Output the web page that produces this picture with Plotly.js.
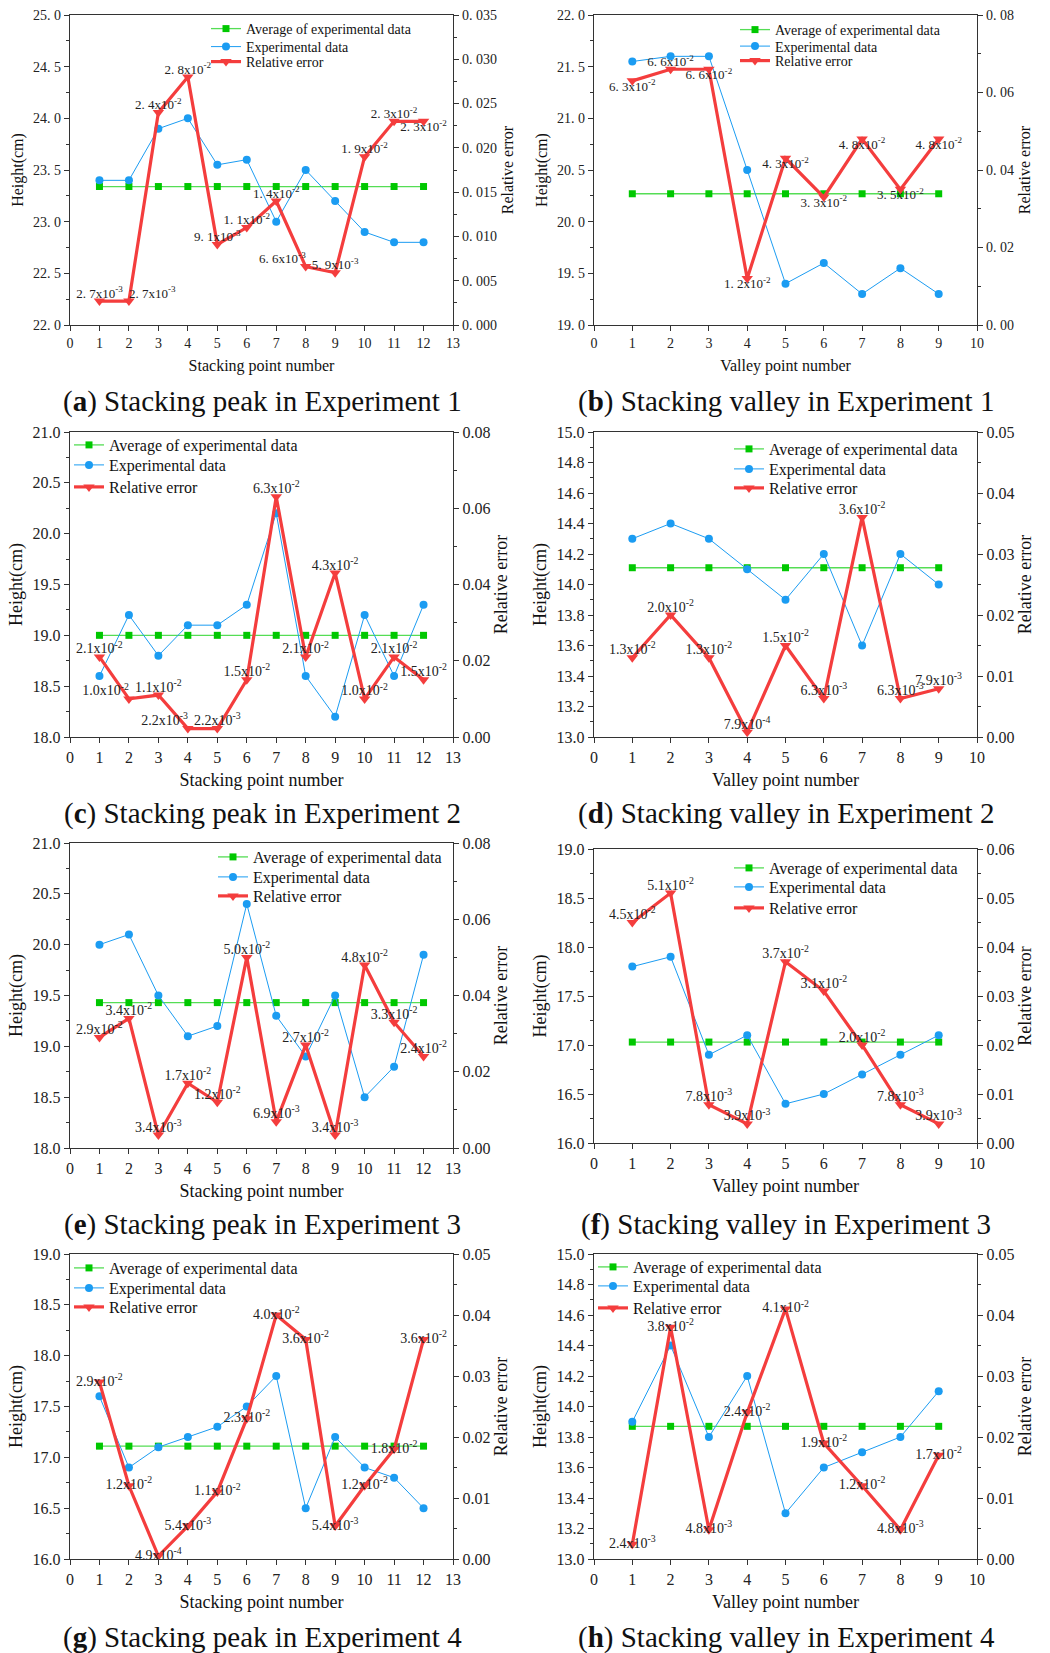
<!DOCTYPE html>
<html><head><meta charset="utf-8">
<script src="https://cdn.plot.ly/plotly-3.0.1.min.js"></script>
<style>body{margin:0;background:#fff}#chart{width:1050px;height:1653px}</style>
</head><body><div id="chart"></div>
<script>
// ---------- DATA ----------
const peakPoints = [1,2,3,4,5,6,7,8,9,10,11,12];
const valleyPoints = [1,2,3,4,5,6,7,8,9];

const a_height = [23.4,23.4,23.9,24.0,23.55,23.6,23.0,23.5,23.2,22.9,22.8,22.8];
const a_avg = [23.34,23.34,23.34,23.34,23.34,23.34,23.34,23.34,23.34,23.34,23.34,23.34];
const a_err = [0.0027,0.0027,0.024,0.028,0.0091,0.011,0.014,0.0066,0.0059,0.019,0.023,0.023];

const b_height = [21.55,21.6,21.6,20.5,19.4,19.6,19.3,19.55,19.3];
const b_avg = [20.27,20.27,20.27,20.27,20.27,20.27,20.27,20.27,20.27];
const b_err = [0.063,0.066,0.066,0.012,0.043,0.033,0.048,0.035,0.048];

const c_height = [18.6,19.2,18.8,19.1,19.1,19.3,20.2,18.6,18.2,19.2,18.6,19.3];
const c_avg = [19.0,19.0,19.0,19.0,19.0,19.0,19.0,19.0,19.0,19.0,19.0,19.0];
const c_err = [0.021,0.010,0.011,0.0022,0.0022,0.015,0.063,0.021,0.043,0.010,0.021,0.015];

const d_height = [14.3,14.4,14.3,14.1,13.9,14.2,13.6,14.2,14.0];
const d_avg = [14.11,14.11,14.11,14.11,14.11,14.11,14.11,14.11,14.11];
const d_err = [0.013,0.020,0.013,0.00079,0.015,0.0063,0.036,0.0063,0.0079];

const e_height = [20.0,20.1,19.5,19.1,19.2,20.4,19.3,18.9,19.5,18.5,18.8,19.9];
const e_avg = [19.43,19.43,19.43,19.43,19.43,19.43,19.43,19.43,19.43,19.43,19.43,19.43];
const e_err = [0.029,0.034,0.0034,0.017,0.012,0.050,0.0069,0.027,0.0034,0.048,0.033,0.024];

const f_height = [17.8,17.9,16.9,17.1,16.4,16.5,16.7,16.9,17.1];
const f_avg = [17.03,17.03,17.03,17.03,17.03,17.03,17.03,17.03,17.03];
const f_err = [0.045,0.051,0.0078,0.0039,0.037,0.031,0.020,0.0078,0.0039];

const g_height = [17.6,16.9,17.1,17.2,17.3,17.5,17.8,16.5,17.2,16.9,16.8,16.5];
const g_avg = [17.11,17.11,17.11,17.11,17.11,17.11,17.11,17.11,17.11,17.11,17.11,17.11];
const g_err = [0.029,0.012,0.00049,0.0054,0.011,0.023,0.040,0.036,0.0054,0.012,0.018,0.036];

const h_height = [13.9,14.4,13.8,14.2,13.3,13.6,13.7,13.8,14.1];
const h_avg = [13.87,13.87,13.87,13.87,13.87,13.87,13.87,13.87,13.87];
const h_err = [0.0024,0.038,0.0048,0.024,0.041,0.019,0.012,0.0048,0.017];

const seriesNames = ['Average of experimental data','Experimental data','Relative error'];
const captions = [
  ['a','Stacking peak in Experiment 1'],['b','Stacking valley in Experiment 1'],
  ['c','Stacking peak in Experiment 2'],['d','Stacking valley in Experiment 2'],
  ['e','Stacking peak in Experiment 3'],['f','Stacking valley in Experiment 3'],
  ['g','Stacking peak in Experiment 4'],['h','Stacking valley in Experiment 4']
];

// ---------- STYLE / LAYOUT ----------
const W = 1050, H = 1653;
const FONT = 'Liberation Serif, Times New Roman, serif';
const GREEN_LINE = '#55dd55', GREEN_MARK = '#00c800', BLUE = '#1b9cf2', RED = '#f43d3d', AXIS = '#333';
const TC='top center', TL='top left', TR='top right', BC='bottom center', MC='middle center';

// leg: [left x, row1 centre y, row2 centre y, row3 centre y] in px
const panels = [
  {x:peakPoints, ht:a_height, avg:a_avg, err:a_err, yR:[22,25], yD:0.5, yDec:1, y2R:[0,0.035], y2D:0.005, y2Dec:3, xMax:13,
   xTitle:'Stacking point number', box:[70,453,15,325], leg:[206,29,47,62], spaced:true,
   pos:[TC,TR,TC,TC,TC,TC,TC,TL,TC,TC,TC,BC]},
  {x:valleyPoints, ht:b_height, avg:b_avg, err:b_err, yR:[19,22], yD:0.5, yDec:1, y2R:[0,0.08], y2D:0.02, y2Dec:2, xMax:10,
   xTitle:'Valley point number', box:[594,977,15,325], leg:[735,30,46.5,61], spaced:true,
   pos:[BC,TC,BC,BC,BC,BC,BC,BC,BC]},
  {x:peakPoints, ht:c_height, avg:c_avg, err:c_err, yR:[18,21], yD:0.5, yDec:1, y2R:[0,0.08], y2D:0.02, y2Dec:2, xMax:13,
   xTitle:'Stacking point number', box:[70,453,432,737], leg:[69,445,465,487], spaced:false,
   pos:[TC,TL,TC,TL,TC,TC,TC,TC,TC,TC,TC,TC]},
  {x:valleyPoints, ht:d_height, avg:d_avg, err:d_err, yR:[13,15], yD:0.2, yDec:1, y2R:[0,0.05], y2D:0.01, y2Dec:2, xMax:10,
   xTitle:'Valley point number', box:[594,977,432,737], leg:[729,449,469,488], spaced:false,
   pos:[TC,TC,TC,TC,TC,TC,TC,TC,TC]},
  {x:peakPoints, ht:e_height, avg:e_avg, err:e_err, yR:[18,21], yD:0.5, yDec:1, y2R:[0,0.08], y2D:0.02, y2Dec:2, xMax:13,
   xTitle:'Stacking point number', box:[70,453,843,1148], leg:[213,857,877,896], spaced:false,
   pos:[TC,TC,TC,TC,TC,TC,TC,TC,TC,TC,TC,TC]},
  {x:valleyPoints, ht:f_height, avg:f_avg, err:f_err, yR:[16,19], yD:0.5, yDec:1, y2R:[0,0.06], y2D:0.01, y2Dec:2, xMax:10,
   xTitle:'Valley point number', box:[594,977,849,1143], leg:[729,868,887,908], spaced:false,
   pos:[TC,TC,TC,TC,TC,TC,TC,TC,TC]},
  {x:peakPoints, ht:g_height, avg:g_avg, err:g_err, yR:[16,19], yD:0.5, yDec:1, y2R:[0,0.05], y2D:0.01, y2Dec:2, xMax:13,
   xTitle:'Stacking point number', box:[70,453,1254,1559], leg:[69,1268,1288,1307], spaced:false,
   pos:[MC,MC,MC,MC,MC,MC,MC,MC,MC,MC,MC,MC]},
  {x:valleyPoints, ht:h_height, avg:h_avg, err:h_err, yR:[13,15], yD:0.2, yDec:1, y2R:[0,0.05], y2D:0.01, y2Dec:2, xMax:10,
   xTitle:'Valley point number', box:[594,977,1254,1559], leg:[593,1267,1286,1308], spaced:false,
   pos:[MC,MC,MC,MC,MC,MC,MC,MC,MC]}
];
const captionY = [401, 813, 1224, 1637];
const captionX = [262, 786];

function fmtErr(v, spaced) {
  const e = Math.floor(Math.log10(v) + 1e-9);
  let m = (v / Math.pow(10, e)).toFixed(1);
  if (spaced) m = m.replace('.', '. ');
  return m + 'x10<sup>-' + (-e) + '</sup>';
}
function ticks(lo, hi, d, dec, spaced) {
  const vals = [], txt = [];
  const n = Math.round((hi - lo) / d);
  for (let i = 0; i <= n; i++) {
    const v = +(lo + i * d).toFixed(8);
    vals.push(v);
    let t = v.toFixed(dec);
    if (spaced) t = t.replace('.', '. ');
    txt.push(t);
  }
  return {vals, txt};
}
function minorVals(lo, hi, d) {
  const out = []; const n = Math.round((hi - lo) / d);
  for (let i = 0; i <= n; i++) out.push(+(lo + i * d).toFixed(8));
  return out;
}

const data = [];
const layout = {
  width: W, height: H, margin: {l:0, r:0, t:0, b:0},
  paper_bgcolor: '#fff', plot_bgcolor: 'rgba(0,0,0,0)',
  font: {family: FONT, color: '#222'},
  showlegend: true, annotations: []
};

panels.forEach((p, i) => {
  const xId = i === 0 ? 'x' : 'x' + (i + 1);
  const yL = 'y' + (2 * i + 1 === 1 ? '' : 2 * i + 1);
  const yR = 'y' + (2 * i + 2);
  const legIds = [0,1,2].map(j => { const k = i * 3 + j + 1; return k === 1 ? 'legend' : 'legend' + k; });
  const small = p.spaced;
  const tickSize = small ? 14 : 16, titleSize = small ? 16 : 18, legSize = small ? 14 : 16, lblSize = small ? 13 : 14;

  data.push({x:p.x, y:p.avg, xaxis:xId, yaxis:yL, legend:legIds[0], name:seriesNames[0], mode:'lines+markers',
    line:{color:GREEN_LINE, width:1.3}, marker:{symbol:'square', size:7, color:GREEN_MARK}, hoverinfo:'skip'});
  data.push({x:p.x, y:p.ht, xaxis:xId, yaxis:yL, legend:legIds[1], name:seriesNames[1], mode:'lines+markers',
    line:{color:BLUE, width:1}, marker:{symbol:'circle', size:8, color:BLUE}, hoverinfo:'skip'});
  data.push({x:p.x, y:p.err, xaxis:xId, yaxis:yR, legend:legIds[2], name:seriesNames[2], mode:'lines+markers',
    line:{color:RED, width:3.2}, marker:{symbol:'triangle-down', size:10, color:RED}, hoverinfo:'skip'});
  data.push({x:p.x, y:p.err, xaxis:xId, yaxis:yR, showlegend:false, mode:'text', cliponaxis:false,
    text:p.err.map(v => fmtErr(v, p.spaced)), textposition:p.pos,
    textfont:{family:FONT, size:lblSize, color:'#222'}, hoverinfo:'skip'});

  const [x0, x1, yt, yb] = p.box;
  const xdom = [x0 / W, x1 / W], ydom = [1 - yb / H, 1 - yt / H];
  const xt = ticks(0, p.xMax, 1, 0, false);
  const lt = ticks(p.yR[0], p.yR[1], p.yD, p.yDec, p.spaced);
  const rt = ticks(p.y2R[0], p.y2R[1], p.y2D, p.y2Dec, p.spaced);

  layout[xId === 'x' ? 'xaxis' : 'xaxis' + (i + 1)] = {
    domain: xdom, anchor: yL, range: [0, p.xMax], tickmode:'array', tickvals: xt.vals, ticktext: xt.txt,
    ticks:'outside', ticklen:5, tickwidth:1, tickcolor:AXIS, showline:true, mirror:true, linecolor:AXIS, linewidth:1.3,
    showgrid:false, zeroline:false, tickfont:{size:tickSize, family:FONT, color:'#222'},
    title:{text:p.xTitle, font:{size:titleSize, family:FONT, color:'#111'}, standoff:9}
  };
  layout[yL === 'y' ? 'yaxis' : 'yaxis' + (2 * i + 1)] = {
    domain: ydom, anchor: xId, range: p.yR, tickmode:'array', tickvals: lt.vals, ticktext: lt.txt,
    ticks:'outside', ticklen:5, tickwidth:1, tickcolor:AXIS,
    minor:{tickmode:'array', tickvals:minorVals(p.yR[0], p.yR[1], p.yD / 2), ticks:'outside', ticklen:3, tickcolor:AXIS, showgrid:false},
    showline:true, linecolor:AXIS, linewidth:1.3, showgrid:false, zeroline:false,
    tickfont:{size:tickSize, family:FONT, color:'#222'},
    title:{text:'Height(cm)', font:{size:titleSize, family:FONT, color:'#111'}, standoff:5}
  };
  layout['yaxis' + (2 * i + 2)] = {
    overlaying: yL, side:'right', anchor: xId, range: p.y2R, tickmode:'array', tickvals: rt.vals, ticktext: rt.txt,
    ticks:'outside', ticklen:5, tickwidth:1, tickcolor:AXIS,
    minor:{tickmode:'array', tickvals:minorVals(p.y2R[0], p.y2R[1], p.y2D / 2), ticks:'outside', ticklen:3, tickcolor:AXIS, showgrid:false},
    showline:true, linecolor:AXIS, linewidth:1.3, showgrid:false, zeroline:false,
    tickfont:{size:tickSize, family:FONT, color:'#222'},
    title:{text:'Relative error', font:{size:titleSize, family:FONT, color:'#111'}, standoff:5}
  };
  legIds.forEach((lid, j) => {
    layout[lid] = {
      x: p.leg[0] / W, y: 1 - p.leg[j + 1] / H, xanchor:'left', yanchor:'middle',
      bgcolor:'rgba(0,0,0,0)', borderwidth:0, font:{size:legSize, family:FONT, color:'#111'},
      itemwidth:30, tracegroupgap:0
    };
  });

  const cap = captions[i];
  layout.annotations.push({
    xref:'paper', yref:'paper', x: captionX[i % 2] / W, y: 1 - captionY[Math.floor(i / 2)] / H,
    xanchor:'center', yanchor:'middle', showarrow:false,
    text:'(<b>' + cap[0] + '</b>) ' + cap[1], font:{size:29, family:FONT, color:'#111'}
  });
});

Plotly.newPlot('chart', data, layout, {staticPlot:true, displayModeBar:false});
</script>
</body></html>
